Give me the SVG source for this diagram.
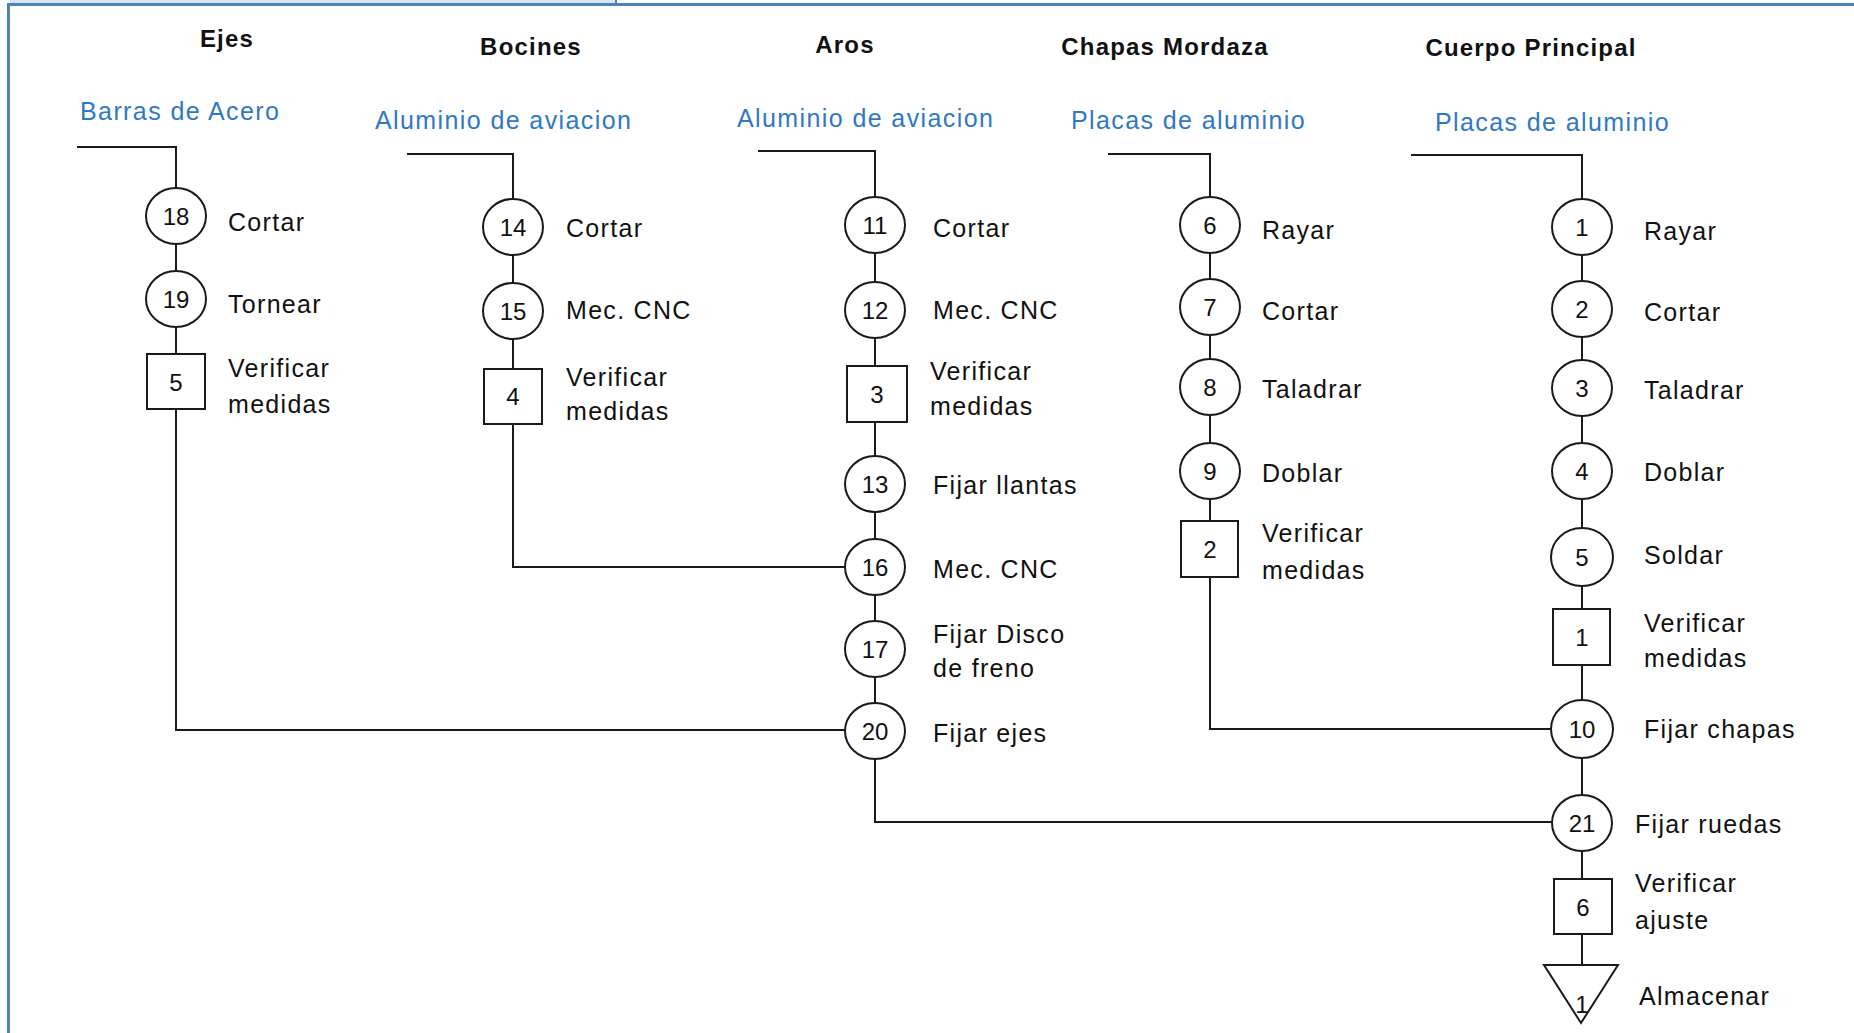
<svg xmlns="http://www.w3.org/2000/svg" width="1854" height="1033" viewBox="0 0 1854 1033">
<style>
.ln{fill:none;stroke:#1a1a1a;stroke-width:2}
.nd{fill:#fff;stroke:#1a1a1a;stroke-width:2}
.num{font-family:"Liberation Sans Narrow","Liberation Sans",Arial,sans-serif;font-size:24px;fill:#111;text-anchor:middle}
.lb{font-family:"Liberation Sans",Arial,sans-serif;font-size:25px;letter-spacing:1.3px;fill:#111}
.hd{font-family:"Liberation Sans",Arial,sans-serif;font-size:24px;font-weight:bold;letter-spacing:1.2px;fill:#111;text-anchor:middle}
.mt{font-family:"Liberation Sans",Arial,sans-serif;font-size:25px;letter-spacing:1.4px;fill:#2f78c4}
</style>
<rect x="0" y="0" width="1854" height="1033" fill="#fff"/>
<g id="frame">
<rect x="10" y="0" width="605" height="3" fill="#dae3f3"/>
<rect x="615" y="0" width="2" height="4" fill="#4f81bd"/>
<rect x="7" y="3" width="1847" height="3" fill="#4f81bd"/>
<rect x="7" y="3" width="3" height="1030" fill="#4f81bd"/>
</g>
<g id="headers">
<text class="hd" x="227" y="47">Ejes</text>
<text class="hd" x="531" y="55">Bocines</text>
<text class="hd" x="845" y="53">Aros</text>
<text class="hd" x="1165" y="55">Chapas Mordaza</text>
<text class="hd" x="1531" y="56">Cuerpo Principal</text>
<text class="mt" x="80" y="120">Barras de Acero</text>
<text class="mt" x="375" y="129">Aluminio de aviacion</text>
<text class="mt" x="737" y="127">Aluminio de aviacion</text>
<text class="mt" x="1071" y="129">Placas de aluminio</text>
<text class="mt" x="1435" y="131">Placas de aluminio</text>
</g>
<g id="connectors">
<path class="ln" d="M77,147 H176 V730 H845"/>
<path class="ln" d="M407,154 H513 V567 H845"/>
<path class="ln" d="M758,151 H875 V822 H1552"/>
<path class="ln" d="M1108,154 H1210 V729 H1552"/>
<path class="ln" d="M1411,155 H1582 V965"/>
</g>
<g id="ejes">
<g id="op18"><ellipse class="nd" cx="176" cy="216" rx="30" ry="28"/><text class="num" x="176" y="225">18</text><text class="lb" x="228" y="231">Cortar</text></g>
<g id="op19"><ellipse class="nd" cx="176" cy="299" rx="30" ry="28"/><text class="num" x="176" y="308">19</text><text class="lb" x="228" y="313">Tornear</text></g>
<g id="in5"><rect class="nd" x="147" y="354" width="58" height="55"/><text class="num" x="176" y="391">5</text><text class="lb" x="228" y="377">Verificar</text><text class="lb" x="228" y="413">medidas</text></g>
</g>
<g id="bocines">
<g id="op14"><ellipse class="nd" cx="513" cy="227" rx="30" ry="28"/><text class="num" x="513" y="236">14</text><text class="lb" x="566" y="237">Cortar</text></g>
<g id="op15"><ellipse class="nd" cx="513" cy="311" rx="30" ry="28"/><text class="num" x="513" y="320">15</text><text class="lb" x="566" y="319">Mec. CNC</text></g>
<g id="in4"><rect class="nd" x="484" y="369" width="58" height="55"/><text class="num" x="513" y="405">4</text><text class="lb" x="566" y="386">Verificar</text><text class="lb" x="566" y="420">medidas</text></g>
</g>
<g id="aros">
<g id="op11"><ellipse class="nd" cx="875" cy="225" rx="30" ry="28"/><text class="num" x="875" y="234">11</text><text class="lb" x="933" y="237">Cortar</text></g>
<g id="op12"><ellipse class="nd" cx="875" cy="310" rx="30" ry="28"/><text class="num" x="875" y="319">12</text><text class="lb" x="933" y="319">Mec. CNC</text></g>
<g id="in3"><rect class="nd" x="847" y="366" width="60" height="56"/><text class="num" x="877" y="403">3</text><text class="lb" x="930" y="380">Verificar</text><text class="lb" x="930" y="415">medidas</text></g>
<g id="op13"><ellipse class="nd" cx="875" cy="484" rx="30" ry="28"/><text class="num" x="875" y="493">13</text><text class="lb" x="933" y="494">Fijar llantas</text></g>
<g id="op16"><ellipse class="nd" cx="875" cy="567" rx="30" ry="28"/><text class="num" x="875" y="576">16</text><text class="lb" x="933" y="578">Mec. CNC</text></g>
<g id="op17"><ellipse class="nd" cx="875" cy="649" rx="30" ry="28"/><text class="num" x="875" y="658">17</text><text class="lb" x="933" y="643">Fijar Disco</text><text class="lb" x="933" y="677">de freno</text></g>
<g id="op20"><ellipse class="nd" cx="875" cy="731" rx="30" ry="28"/><text class="num" x="875" y="740">20</text><text class="lb" x="933" y="742">Fijar ejes</text></g>
</g>
<g id="chapas">
<g id="op6"><ellipse class="nd" cx="1210" cy="225" rx="30" ry="28"/><text class="num" x="1210" y="234">6</text><text class="lb" x="1262" y="239">Rayar</text></g>
<g id="op7"><ellipse class="nd" cx="1210" cy="307" rx="30" ry="28"/><text class="num" x="1210" y="316">7</text><text class="lb" x="1262" y="320">Cortar</text></g>
<g id="op8"><ellipse class="nd" cx="1210" cy="387" rx="30" ry="28"/><text class="num" x="1210" y="396">8</text><text class="lb" x="1262" y="398">Taladrar</text></g>
<g id="op9"><ellipse class="nd" cx="1210" cy="471" rx="30" ry="28"/><text class="num" x="1210" y="480">9</text><text class="lb" x="1262" y="482">Doblar</text></g>
<g id="in2"><rect class="nd" x="1181" y="521" width="57" height="56"/><text class="num" x="1210" y="558">2</text><text class="lb" x="1262" y="542">Verificar</text><text class="lb" x="1262" y="579">medidas</text></g>
</g>
<g id="cuerpo">
<g id="op1"><ellipse class="nd" cx="1582" cy="227" rx="30" ry="28"/><text class="num" x="1582" y="236">1</text><text class="lb" x="1644" y="240">Rayar</text></g>
<g id="op2"><ellipse class="nd" cx="1582" cy="309" rx="30" ry="28"/><text class="num" x="1582" y="318">2</text><text class="lb" x="1644" y="321">Cortar</text></g>
<g id="op3"><ellipse class="nd" cx="1582" cy="388" rx="30" ry="28"/><text class="num" x="1582" y="397">3</text><text class="lb" x="1644" y="399">Taladrar</text></g>
<g id="op4"><ellipse class="nd" cx="1582" cy="471" rx="30" ry="28"/><text class="num" x="1582" y="480">4</text><text class="lb" x="1644" y="481">Doblar</text></g>
<g id="op5"><ellipse class="nd" cx="1582" cy="557" rx="31" ry="29"/><text class="num" x="1582" y="566">5</text><text class="lb" x="1644" y="564">Soldar</text></g>
<g id="in1"><rect class="nd" x="1553" y="609" width="57" height="56"/><text class="num" x="1582" y="646">1</text><text class="lb" x="1644" y="632">Verificar</text><text class="lb" x="1644" y="667">medidas</text></g>
<g id="op10"><ellipse class="nd" cx="1582" cy="729" rx="31" ry="29"/><text class="num" x="1582" y="738">10</text><text class="lb" x="1644" y="738">Fijar chapas</text></g>
<g id="op21"><ellipse class="nd" cx="1582" cy="823" rx="30" ry="28"/><text class="num" x="1582" y="832">21</text><text class="lb" x="1635" y="833">Fijar ruedas</text></g>
<g id="in6"><rect class="nd" x="1554" y="879" width="58" height="55"/><text class="num" x="1583" y="916">6</text><text class="lb" x="1635" y="892">Verificar</text><text class="lb" x="1635" y="929">ajuste</text></g>
<g id="st1"><polygon class="nd" points="1544,965 1618,965 1581,1023"/><text class="num" x="1582" y="1013">1</text><text class="lb" x="1639" y="1005">Almacenar</text></g>
</g>
</svg>
